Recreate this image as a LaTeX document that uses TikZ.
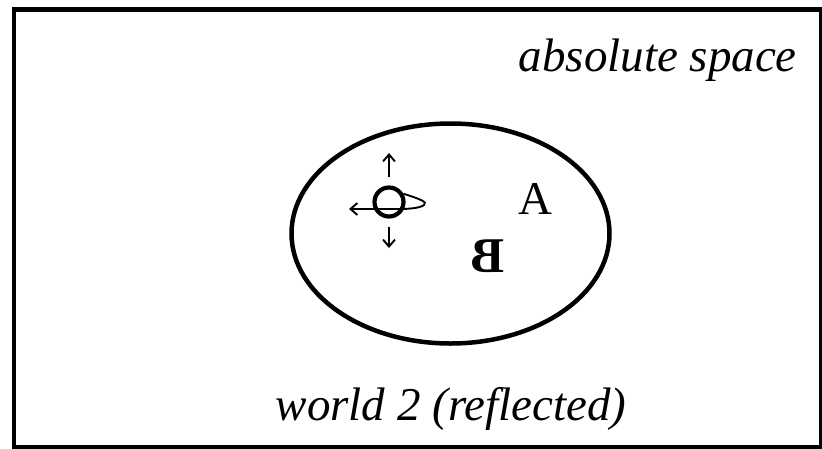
\documentclass[tikz,border=0pt]{standalone}
\usepackage{fontspec}
\setmainfont{Liberation Serif}
\usetikzlibrary{arrows.meta,shapes.geometric}
\tikzset{
  frame/.style={line width=4.5pt},
  world/.style={draw, ellipse, line width=4.5pt, minimum width=318pt, minimum height=220pt, inner sep=0pt},
  globe/.style={draw, circle, line width=4.2pt, minimum size=29pt, inner sep=0pt},
  arr/.style={line width=1.9pt, -{Straight Barb[length=7pt,width=12pt]}},
  lbl/.style={font=\fontsize{47}{54}\selectfont\itshape, inner sep=0pt},
  letter/.style={font=\fontsize{47}{52}\selectfont, inner sep=0pt}
}
\begin{document}
\begin{tikzpicture}[x=1pt,y=-1pt]
    \useasboundingbox (0,0) rectangle (822,448);
    % outer box
    \draw[frame] (14,9.5) rectangle (821,447);
    \node[lbl, anchor=base east] (abs) at (797,71) {absolute space};

    % world 2
    \node[world] (world) at (450.5,233.5) {};
    \node[lbl, anchor=base] (name) at (451,420) {world 2 (reflected)};

    % spinning body
    \node[globe] (globe) at (389,202) {};
    \coordinate (uptip) at (389,153);
    \coordinate (downtip) at (389,248);
    \coordinate (spintip) at (349,209);
    \draw[arr] ([yshift=8pt]globe.north) -- (uptip);
    \draw[arr] ([yshift=-8pt]globe.south) -- (downtip);
    \draw[arr] (globe.30) .. controls (420,199) and (428,202) .. (424,205)
        .. controls (420,208) and (410,209) .. (398,209) -- (spintip);

    % letters
    \node[letter] (a) at (535,199) {A};
    \node[letter] (b) at (488,256) {\fontsize{50}{54}\selectfont\scalebox{-1}[1]{\bfseries B}};
\end{tikzpicture}
\end{document}
